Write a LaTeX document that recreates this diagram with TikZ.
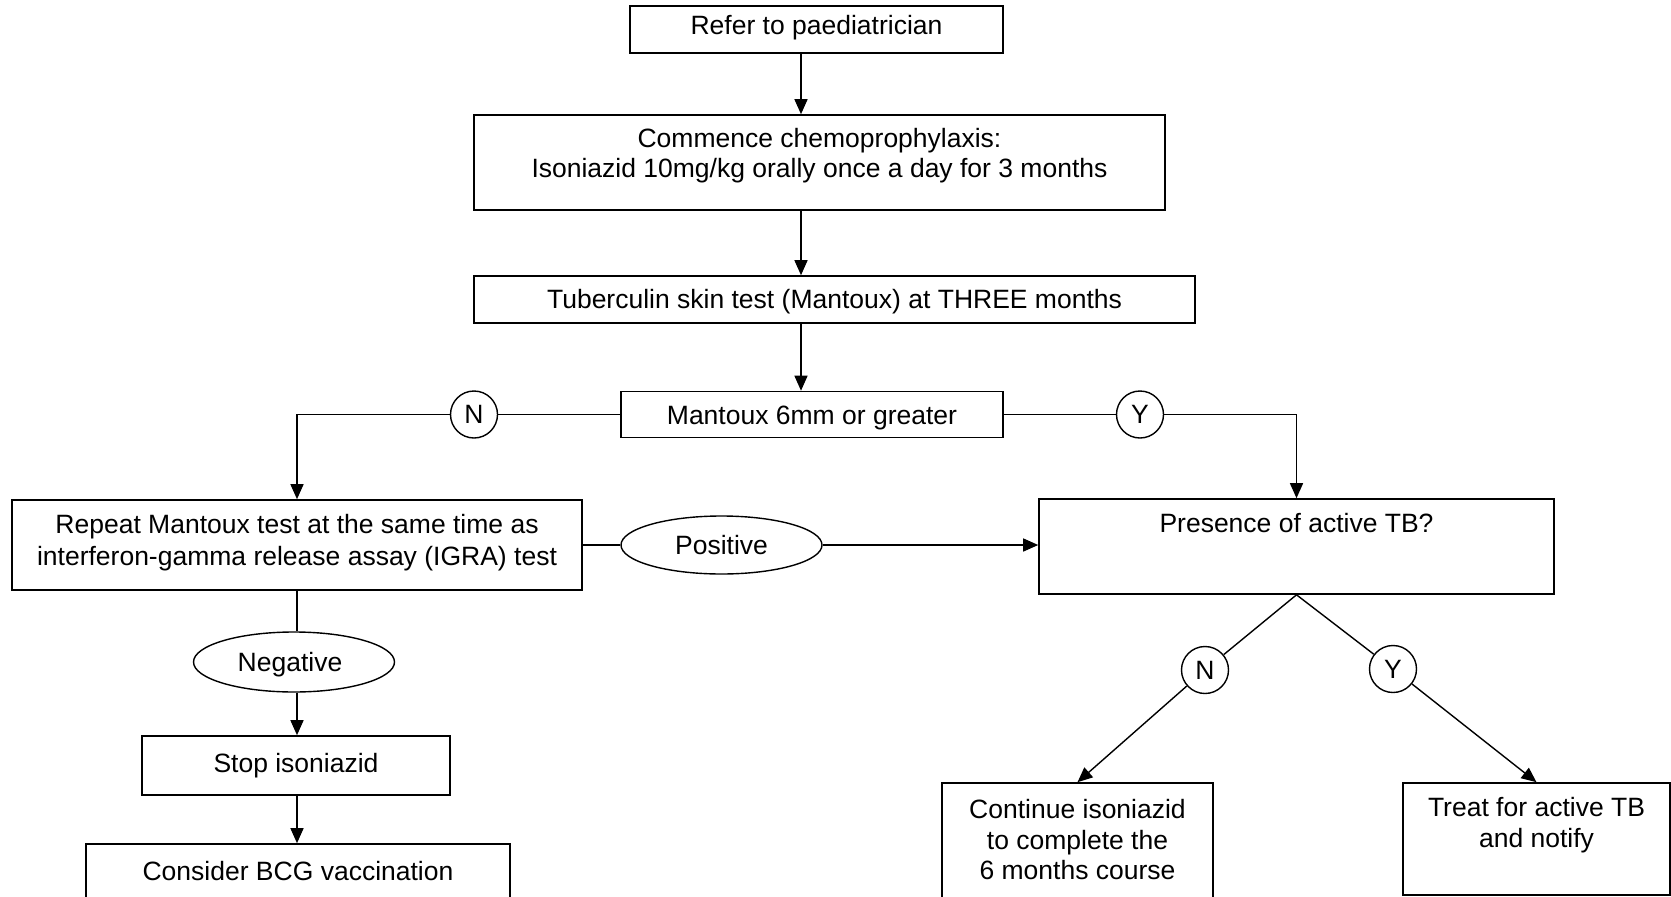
\documentclass[tikz,border=0pt]{standalone}
\usepackage{fontspec}
\setmainfont{Liberation Sans}
\usetikzlibrary{arrows.meta,shapes.geometric}
\begin{document}
\begin{tikzpicture}[x=1pt,y=-1pt,
  box/.style={draw, line width=1.6pt, inner sep=0pt, align=center, font=\fontsize{26.5}{30.5}\selectfont},
  txt/.style={inner sep=0pt, align=center, font=\fontsize{26.5}{30.5}\selectfont},
  circ/.style={draw, circle, line width=1.4pt, minimum size=47pt, inner sep=0pt, font=\fontsize{26.5}{30.5}\selectfont},
  oval/.style={draw, ellipse, line width=1.4pt, inner sep=0pt, minimum width=201pt, font=\fontsize{26.5}{30.5}\selectfont},
  conn/.style={line width=1.4pt},
  arr/.style={conn, -{Triangle[length=15pt,width=13pt]}}
]
\useasboundingbox (0,0) rectangle (1671,897);
\clip (0,0) rectangle (1671,897);
\coordinate (spine) at (801,0);

% boxes
\node[box, minimum width=373pt, minimum height=47pt] (refer) at (816.5,29.5) {};
\node[txt] (refert) at (816.5,28) {Refer to paediatrician};
\node[box, minimum width=691pt, minimum height=95pt] (commence) at (819.5,162.5) {};
\node[txt] (commencet) at (819.5,155.5) {Commence chemoprophylaxis:\\Isoniazid 10mg/kg orally once a day for 3 months};
\node[box, minimum width=721pt, minimum height=47pt] (tst) at (834.5,299.5) {};
\node[txt] (tstt) at (834.5,301.5) {Tuberculin skin test (Mantoux) at THREE months};
\node[box, minimum width=382pt, minimum height=46pt] (mantoux) at (812,414.5) {};
\node[txt] (mantouxt) at (812,417.5) {Mantoux 6mm or greater};
\node[box, minimum width=570pt, minimum height=90pt] (repeat) at (297,545) {};
\node[txt, font=\fontsize{26.5}{32}\selectfont] (repeatt) at (297,542.5) {Repeat Mantoux test at the same time as\\interferon-gamma release assay (IGRA) test};
\node[box, minimum width=515pt, minimum height=95pt] (presence) at (1296.5,546.5) {};
\node[txt] (presencet) at (1296.5,523) {Presence of active TB?};
\node[box, minimum width=308pt, minimum height=59pt] (stop) at (296,765.5) {Stop isoniazid};
\node[box, minimum width=424pt, minimum height=96pt] (bcg) at (298,892) {};
\node[txt] (bcgt) at (298,871) {Consider BCG vaccination};
\node[box, minimum width=271pt, minimum height=127pt] (cont) at (1077.5,846.5) {};
\node[txt] (contt) at (1077.5,840) {Continue isoniazid\\to complete the\\6 months course};
\node[box, minimum width=267pt, minimum height=112pt] (treat) at (1536.5,839) {};
\node[txt] (treatt) at (1536.5,825) {Treat for active TB\\and notify};

% circles and ellipses
\node[circ] (cN) at (474,414.5) {N};
\node[circ] (cY) at (1140,414.5) {Y};
\node[circ] (cN2) at (1205,670) {N};
\node[circ] (cY2) at (1393,669) {Y};
\node[oval, minimum height=58pt] (pos) at (721.5,545) {Positive};
\node[oval, minimum height=60pt] (neg) at (294,662) {};
\node[txt] (negt) at (290,665) {Negative};

% connectors
\draw[arr] (refer.south -| spine) -- (commence.north -| spine);
\draw[arr] (commence.south -| spine) -- (tst.north -| spine);
\draw[arr] (tst.south -| spine) -- (mantoux.north -| spine);
\draw[conn] (mantoux.west) -- (cN.east);
\draw[arr] (cN.west) -| (repeat.north);
\draw[conn] (mantoux.east) -- (cY.west);
\draw[arr] (cY.east) -| (presence.north);
\draw[conn] (repeat.east) -- (pos.west);
\draw[arr] (pos.east) -- (presence.west |- pos.east);
\draw[conn] (repeat.south) -- (repeat.south |- neg.north);
\draw[arr] (neg.south -| repeat.south) -- (stop.north -| repeat.south);
\draw[arr] (stop.south -| repeat.south) -- (bcg.north -| repeat.south);
\draw[conn] (presence.south) -- (cN2);
\draw[arr] (cN2) -- (cont.north);
\draw[conn] (presence.south) -- (cY2);
\draw[arr] (cY2) -- (treat.north);
\end{tikzpicture}
\end{document}
